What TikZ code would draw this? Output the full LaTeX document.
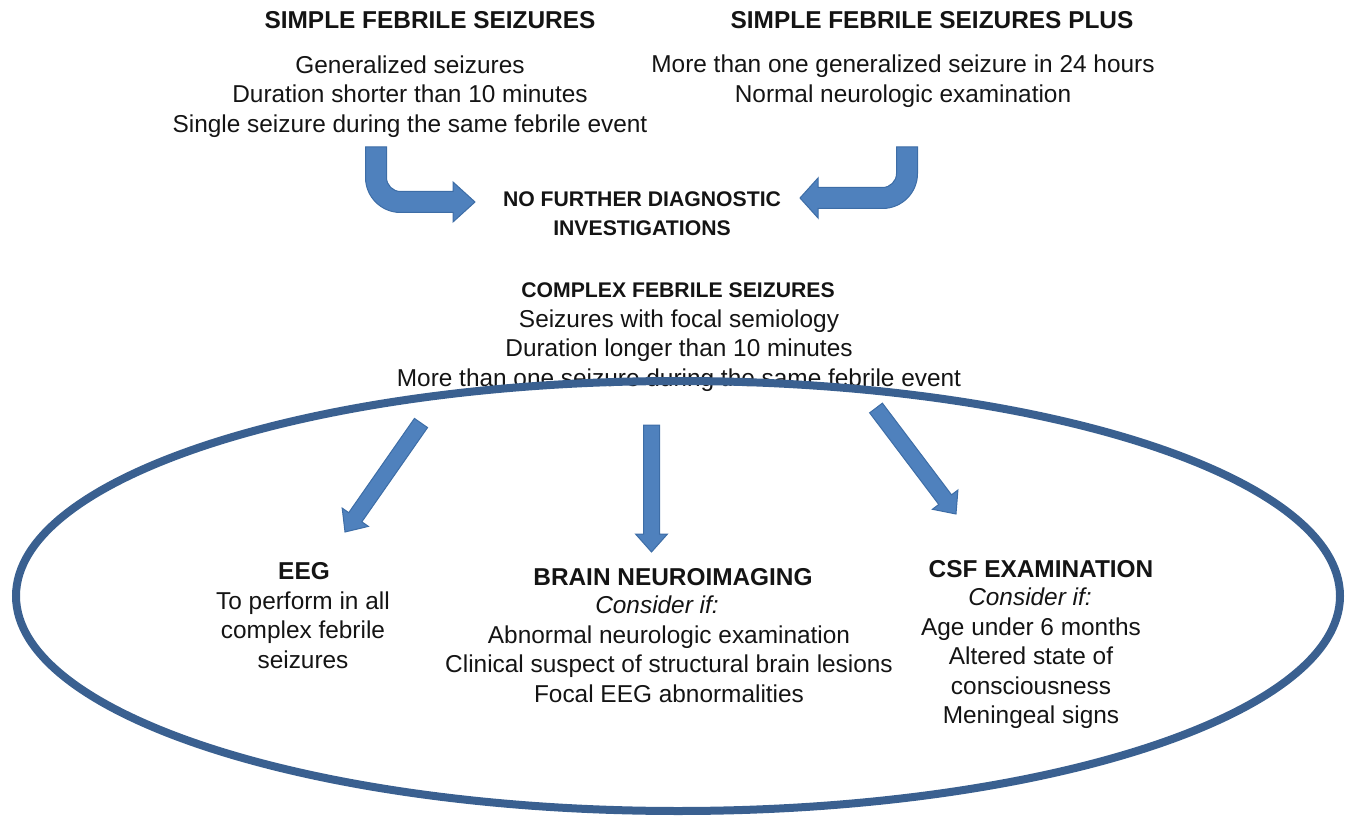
\documentclass[tikz,border=0pt]{standalone}
\usepackage{fontspec}
\setmainfont{Liberation Sans}
\usetikzlibrary{calc}
\definecolor{arrfill}{HTML}{4F81BD}
\definecolor{arrline}{HTML}{3D6DA6}
\definecolor{ellline}{HTML}{3A6090}
\definecolor{txtcol}{HTML}{141414}
\newcommand\tst{\rule{0pt}{20pt}}
\newcommand\regfont{\fontsize{24.4}{29.5}\selectfont}
\newcommand\subfont{\bfseries\fontsize{21.2}{29.5}\selectfont}
\newcommand\headfont{\bfseries\fontsize{24.4}{29.5}\selectfont}
\newcommand\blockarrow[2]{%
  \filldraw[barrow] let \p1=(#1), \p2=(#2), \n1={atan2(\y2-\y1,\x2-\x1)}, \n2={veclen(\x2-\x1,\y2-\y1)} in
  [shift={(\p1)}, rotate=\n1] (0pt,-8pt) -- ({\n2*1pt-18pt},-8pt) -- ({\n2*1pt-18pt},-16pt) -- ({\n2*1pt},0pt) -- ({\n2*1pt-18pt},16pt) -- ({\n2*1pt-18pt},8pt) -- (0pt,8pt) -- cycle;}
\tikzset{
  txt/.style={anchor=north, inner sep=0pt, align=center, text=txtcol, font=\regfont},
  head/.style={txt, font=\headfont},
  sub/.style={txt, font=\subfont},
  barrow/.style={fill=arrfill, draw=arrline, line width=1pt, line join=miter},
  ell/.style={draw=ellline, line width=8pt}
}
\begin{document}
\begin{tikzpicture}[x=1pt, y=-1pt]
\useasboundingbox (0,0) rectangle (1347,818);
% top blocks
\node[head] (sfsh) at (430,8.5) {\tst SIMPLE FEBRILE SEIZURES};
\node[txt] (sfsb) at (410,53) {\tst Generalized seizures\\Duration shorter than 10 minutes\\Single seizure during the same febrile event};
\node[head] (sfph) at (932,8) {\tst SIMPLE FEBRILE SEIZURES PLUS};
\node[txt] (sfpb) at (903,52.5) {\tst More than one generalized seizure in 24 hours\\Normal neurologic examination};
\node[sub] (nfd) at (642,186) {\tst NO FURTHER DIAGNOSTIC\\INVESTIGATIONS};
% complex
\node[sub] (cfsh) at (678,277) {\tst COMPLEX FEBRILE SEIZURES};
\node[txt] (cfsb) at (679,307) {\tst Seizures with focal semiology\\Duration longer than 10 minutes\\More than one seizure during the same febrile event};
% bottom blocks
\node[head] (eegh) at (304,559) {\tst EEG};
\node[txt] (eegb) at (303,589) {\tst To perform in all\\complex febrile\\seizures};
\node[head] (brnh) at (673,565) {\tst BRAIN NEUROIMAGING};
\node[txt, font=\regfont\itshape] (brnc) at (657,593) {\tst Consider if:};
\node[txt] (brnb) at (669,623) {\tst Abnormal neurologic examination\\Clinical suspect of structural brain lesions\\Focal EEG abnormalities};
\node[head] (csfh) at (1041,557) {\tst CSF EXAMINATION};
\node[txt, font=\regfont\itshape] (csfc) at (1030,585) {\tst Consider if:};
\node[txt] (csfb) at (1031,615) {\tst Age under 6 months\\Altered state of\\consciousness\\Meningeal signs};
% curved arrows
\filldraw[barrow] (365.5,147) -- (386.5,147) -- (386.5,177.5) .. controls (386.5,185.2) and (392.8,191.5) .. (400.5,191.5) -- (453,191.5) -- (453,182) -- (475,202) -- (453,222) -- (453,212.5) -- (400.5,212.5) .. controls (381.2,212.5) and (365.5,196.8) .. (365.5,177.5) -- cycle;
\filldraw[barrow] (896.5,147) -- (917.5,147) -- (917.5,173.5) .. controls (917.5,192.8) and (901.8,208.5) .. (882.5,208.5) -- (818,208.5) -- (818,218) -- (800,198) -- (818,178) -- (818,187.5) -- (882.5,187.5) .. controls (890.2,187.5) and (896.5,181.2) .. (896.5,173.5) -- cycle;
% straight arrows
\coordinate (a1s) at (421,423); \coordinate (a1e) at (345,532);
\coordinate (a2s) at (651.5,425); \coordinate (a2e) at (651.5,552);
\coordinate (a3s) at (876,408); \coordinate (a3e) at (956,514);
\blockarrow{a1s}{a1e}
\blockarrow{a2s}{a2e}
\blockarrow{a3s}{a3e}
% ellipse
\draw[ell] (678,596) ellipse [x radius=662, y radius=215];
\end{tikzpicture}
\end{document}
